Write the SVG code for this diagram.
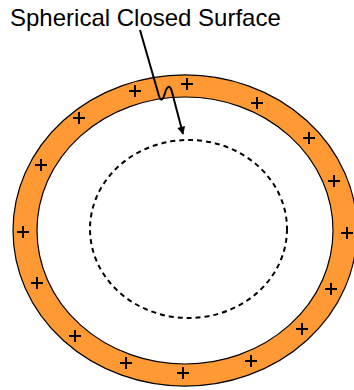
<svg xmlns="http://www.w3.org/2000/svg" width="354" height="390" viewBox="0 0 354 390">
<defs>
<style>
.plus{stroke:#000;stroke-width:2;fill:none}
.lbl{font-family:"Liberation Sans",Arial,sans-serif;font-size:24px;fill:#000}
</style>
<marker id="ah" viewBox="0 0 10 10" refX="9" refY="5" markerWidth="10" markerHeight="8" markerUnits="userSpaceOnUse" orient="auto">
<path d="M0,0 L10,5 L0,10 Z" fill="#000"/>
</marker>
<path id="p" d="M-6,0 H6 M0,-6 V6"/>
</defs>
<rect width="354" height="390" fill="#fff"/>
<g id="shell">
<path d="M13,230.5 A172,155.5 0 1 0 357,230.5 A172,155.5 0 1 0 13,230.5 Z M37,230.5 A148,133.5 0 1 1 333,230.5 A148,133.5 0 1 1 37,230.5 Z" fill="#FF9933" fill-rule="evenodd" stroke="#000" stroke-width="1.2"/>
</g>
<g id="charges" class="plus">
<use href="#p" x="135" y="91"/>
<use href="#p" x="187" y="84"/>
<use href="#p" x="257" y="103"/>
<use href="#p" x="309" y="138"/>
<use href="#p" x="334" y="181"/>
<use href="#p" x="347" y="233"/>
<use href="#p" x="331" y="289"/>
<use href="#p" x="302" y="329"/>
<use href="#p" x="251" y="361"/>
<use href="#p" x="183" y="373"/>
<use href="#p" x="126" y="363"/>
<use href="#p" x="75" y="336"/>
<use href="#p" x="37" y="283"/>
<use href="#p" x="23" y="232"/>
<use href="#p" x="41" y="165"/>
<use href="#p" x="79" y="118"/>
</g>
<g id="surface">
<ellipse cx="188.5" cy="229" rx="98.5" ry="89" fill="none" stroke="#000" stroke-width="2" stroke-dasharray="5,4"/>
</g>
<g id="label">
<text class="lbl" x="10" y="26">Spherical Closed Surface</text>
</g>
<g id="connectors">
<path d="M140,30 L159,96 C161,102 163,100 165,93 C167,86 170,84 172,92 L183,134" fill="none" stroke="#000" stroke-width="2" marker-end="url(#ah)"/>
</g>
</svg>
